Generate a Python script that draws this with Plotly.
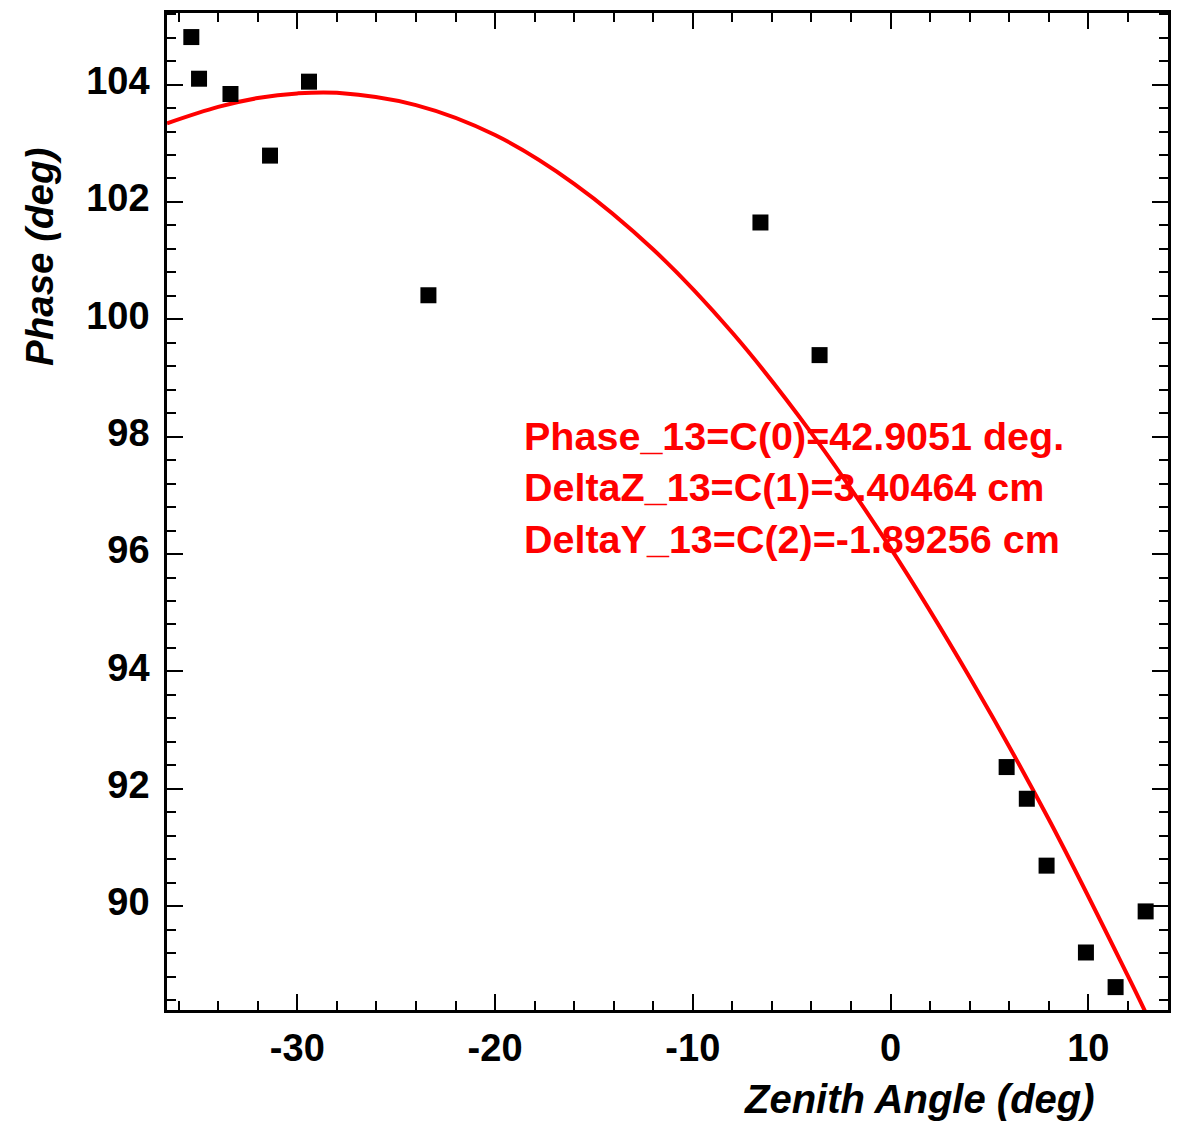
import plotly.graph_objects as go

# Measured points
zenith_deg = [-35.36, -34.97, -33.38, -31.38, -29.41, -23.37, -6.58, -3.59,
              5.87, 6.89, 7.89, 9.88, 11.38, 12.90]
phase_deg = [104.81, 104.10, 103.84, 102.79, 104.05, 100.41, 101.65, 99.39,
             92.37, 91.83, 90.69, 89.21, 88.62, 89.91]

# Fit curve
fit_x = [-36.59, -34.0, -32.0, -30.0, -28.0, -24.0, -20.0, -16.0, -12.0, -8.0,
         -4.0, 0.0, 4.0, 8.0, 12.0, 12.91]
fit_y = [103.34, 103.62, 103.77, 103.85, 103.86, 103.65, 103.14, 102.31, 101.19,
         99.77, 98.06, 96.10, 93.90, 91.48, 88.81, 88.18]

x_tick_vals = [-30, -20, -10, 0, 10]
x_tick_text = ["-30", "-20", "-10", "0", "10"]
y_tick_vals = [90, 92, 94, 96, 98, 100, 102, 104]
y_tick_text = ["90", "92", "94", "96", "98", "100", "102", "104"]

fit_text = ["Phase_13=C(0)=42.9051 deg.",
            "DeltaZ_13=C(1)=3.40464 cm",
            "DeltaY_13=C(2)=-1.89256 cm"]

FONT = "Liberation Sans, Arial, Helvetica, sans-serif"

fig = go.Figure()
fig.add_trace(go.Scatter(x=fit_x, y=fit_y, mode="lines",
                         line=dict(color="#ff0000", width=4, shape="spline", smoothing=1.0),
                         hoverinfo="skip", showlegend=False))
fig.add_trace(go.Scatter(x=zenith_deg, y=phase_deg, mode="markers",
                         marker=dict(symbol="square", size=16, color="black",
                                     line=dict(width=0)),
                         showlegend=False))

axis_common = dict(
    showgrid=False, zeroline=False, showline=True, linecolor="black", linewidth=2.5,
    mirror="allticks", ticks="inside", ticklen=16, tickwidth=2, tickcolor="black",
    tickfont=dict(family=FONT, size=38, color="black", weight="bold"),
)

PW = 1001.0  # plot area width in px
PH = 1000.0  # plot area height in px

fig.update_layout(
    width=1184, height=1123,
    margin=dict(l=167, r=16, t=10, b=113),
    paper_bgcolor="white", plot_bgcolor="white",
    xaxis=dict(range=[-36.59, 14.03], tickmode="array", tickvals=x_tick_vals,
               ticktext=x_tick_text,
               minor=dict(ticks="inside", ticklen=9, tickwidth=2, dtick=2, tick0=0,
                          tickcolor="black"),
               ticklabelstandoff=3,
               **axis_common),
    yaxis=dict(range=[88.23, 105.22], tickmode="array", tickvals=y_tick_vals,
               ticktext=y_tick_text,
               minor=dict(ticks="inside", ticklen=9, tickwidth=2, dtick=0.4, tick0=0,
                          tickcolor="black"),
               ticklabelstandoff=7, ticklabelshift=-4,
               **axis_common),
    annotations=[
        dict(text="<br>".join(fit_text), xref="x", yref="y", x=-18.62, y=97.13,
             xanchor="left", yanchor="middle", align="left", showarrow=False,
             font=dict(family=FONT, size=39.5, color="#ff0000", weight="bold")),
        dict(text="<i>Zenith Angle (deg)</i>", xref="paper", yref="paper",
             x=(920 - 167.3) / PW, y=-(1099 - 1010) / PH, xanchor="center",
             yanchor="middle", showarrow=False,
             font=dict(family=FONT, size=40, color="black", weight="bold")),
        dict(text="<i>Phase (deg)</i>", xref="paper", yref="paper",
             x=(40 - 167.3) / PW, y=(1010 - 255) / PH, xanchor="center",
             yanchor="middle", textangle=-90, showarrow=False,
             font=dict(family=FONT, size=38.5, color="black", weight="bold")),
    ],
)

fig.write_html("out.html",
               config={"displayModeBar": False},
               post_script="document.body.style.margin='0';document.body.style.overflow='hidden';")
